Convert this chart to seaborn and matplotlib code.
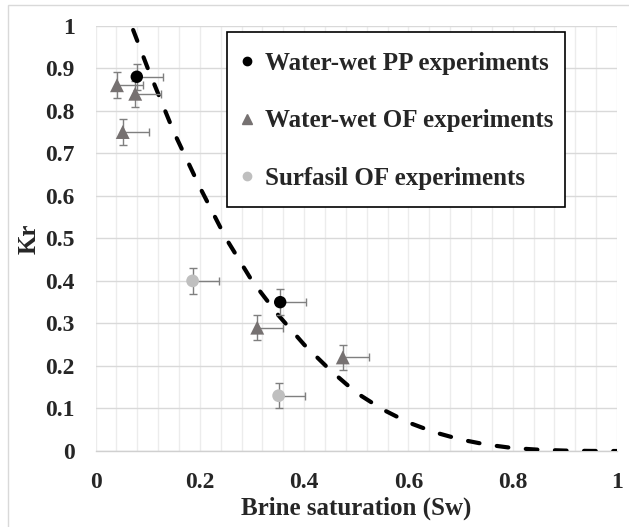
import matplotlib
matplotlib.use("Agg")
import matplotlib.pyplot as plt
from matplotlib.lines import Line2D
from matplotlib.patches import Rectangle
from matplotlib import font_manager as fm
import seaborn as sns
import pandas as pd
import numpy as np

# ---- data ----
pp_sw = [0.079, 0.354]
pp_kr = [0.88, 0.35]

of_sw = [0.041, 0.076, 0.052, 0.310, 0.474]
of_kr = [0.86, 0.84, 0.75, 0.29, 0.22]

sf_sw = [0.186, 0.351]
sf_kr = [0.40, 0.13]

xerr_plus = 0.05
yerr = 0.03

curve_sw = [0.072, 0.10, 0.15, 0.20, 0.25, 0.30, 0.35, 0.40, 0.45, 0.50,
            0.55, 0.60, 0.65, 0.70, 0.75, 0.80, 0.85, 0.90, 0.95, 1.00]
curve_kr = [0.99, 0.90, 0.75, 0.62, 0.50, 0.40, 0.32, 0.25, 0.19, 0.137,
            0.098, 0.067, 0.044, 0.027, 0.015, 0.007, 0.003, 0.001, 0.0002, 0.0]

x_ticklabels = ["0", "0.2", "0.4", "0.6", "0.8", "1"]
y_ticklabels = ["0", "0.1", "0.2", "0.3", "0.4", "0.5", "0.6", "0.7", "0.8", "0.9", "1"]

labels = ["Water-wet PP experiments", "Water-wet OF experiments", "Surfasil OF experiments"]
colors = ["#000000", "#767171", "#BFBFBF"]
markers = ["o", "^", "o"]

sns.set_theme(style="white")
bold_path = fm.findfont(fm.FontProperties(family="Liberation Serif", weight="bold"))
plt.rcParams["font.family"] = "Liberation Serif"
plt.rcParams["font.weight"] = "bold"


def fp(size):
    return fm.FontProperties(fname=bold_path, size=size)


fig = plt.figure(figsize=(6.29, 5.27), dpi=100)
ax = fig.add_axes([0.152, 0.1442, 0.829, 0.807])

# curve
curve_df = pd.DataFrame({"Sw": curve_sw, "Kr": curve_kr})
sns.lineplot(data=curve_df, x="Sw", y="Kr", ax=ax, color="black", lw=3.0,
             zorder=3, legend=False)
ln = ax.lines[-1]
ln.set_dashes((2.8, 4.2))
ln.set_dash_capstyle("round")

# points
groups = [(pp_sw, pp_kr), (of_sw, of_kr), (sf_sw, sf_kr)]
rows = []
for lab, (xs, ys) in zip(labels, groups):
    for x, y in zip(xs, ys):
        rows.append({"Sw": x, "Kr": y, "grp": lab})
pts = pd.DataFrame(rows)

for (xs, ys) in groups:
    ax.errorbar(xs, ys, xerr=[[0] * len(xs), [xerr_plus] * len(xs)],
                yerr=yerr, fmt="none", ecolor="#7f7f7f", elinewidth=1.0,
                capsize=3, capthick=1.0, zorder=4)

sizes = {labels[0]: 80, labels[1]: 100, labels[2]: 84}
for lab, col, mk in zip(labels, colors, markers):
    sub = pts[pts["grp"] == lab]
    sns.scatterplot(data=sub, x="Sw", y="Kr", ax=ax, color=col, marker=mk,
                    s=sizes[lab], edgecolor="none", zorder=5, legend=False)

# axes
ax.set_xlim(0, 1)
ax.set_ylim(0, 1)
ax.set_xticks(np.arange(0, 1.01, 0.2))
ax.set_xticks(np.arange(0, 1.001, 0.04), minor=True)
ax.set_yticks(np.arange(0, 1.01, 0.1))
ax.set_xticklabels(x_ticklabels, fontproperties=fp(17))
ax.set_yticklabels(y_ticklabels, fontproperties=fp(17))
ax.grid(which="major", axis="y", color="#d9d9d9", lw=1.0)
ax.grid(which="both", axis="x", color="#ececec", lw=1.0)
ax.set_axisbelow(True)
for s in ["top", "right", "left"]:
    ax.spines[s].set_visible(False)
ax.spines["bottom"].set_color("#d0d0d0")
ax.spines["bottom"].set_linewidth(1.0)
ax.tick_params(axis="x", which="major", direction="inout", length=10, width=1,
               color="#d0d0d0", pad=10)
ax.tick_params(axis="x", which="minor", length=0)
ax.tick_params(axis="y", length=0, pad=15)

ax.set_xlabel("Brine saturation (Sw)", fontproperties=fp(18), labelpad=3)
ax.set_ylabel("Kr", fontproperties=fp(18), labelpad=3)

# legend (frame drawn as a box, entries placed inside it)
frame = Rectangle((0.2517, 0.5738), 0.8998 - 0.2517, 0.9854 - 0.5738,
                  transform=ax.transAxes, facecolor="white", edgecolor="black",
                  lw=1.2, zorder=9)
ax.add_patch(frame)
handles = [Line2D([], [], ls="none", marker=m, color=c, markersize=ms)
           for m, c, ms in zip(markers, colors, [6, 7, 6])]
leg = ax.legend(handles, labels, loc="upper left", bbox_to_anchor=(0.2517, 0.9678),
                borderaxespad=0, frameon=False, prop=fp(18),
                handlelength=0.6, handletextpad=0.42, labelspacing=1.38,
                borderpad=0.5)
leg.set_zorder(10)

# outer chart border
fig.patches.append(Rectangle((8 / 629, -0.1), 1.2, 1 - 5 / 527 + 0.1,
                             transform=fig.transFigure, fill=False,
                             edgecolor="#d9d9d9", lw=1.0, zorder=0))

fig.savefig("out.png", dpi=100)
